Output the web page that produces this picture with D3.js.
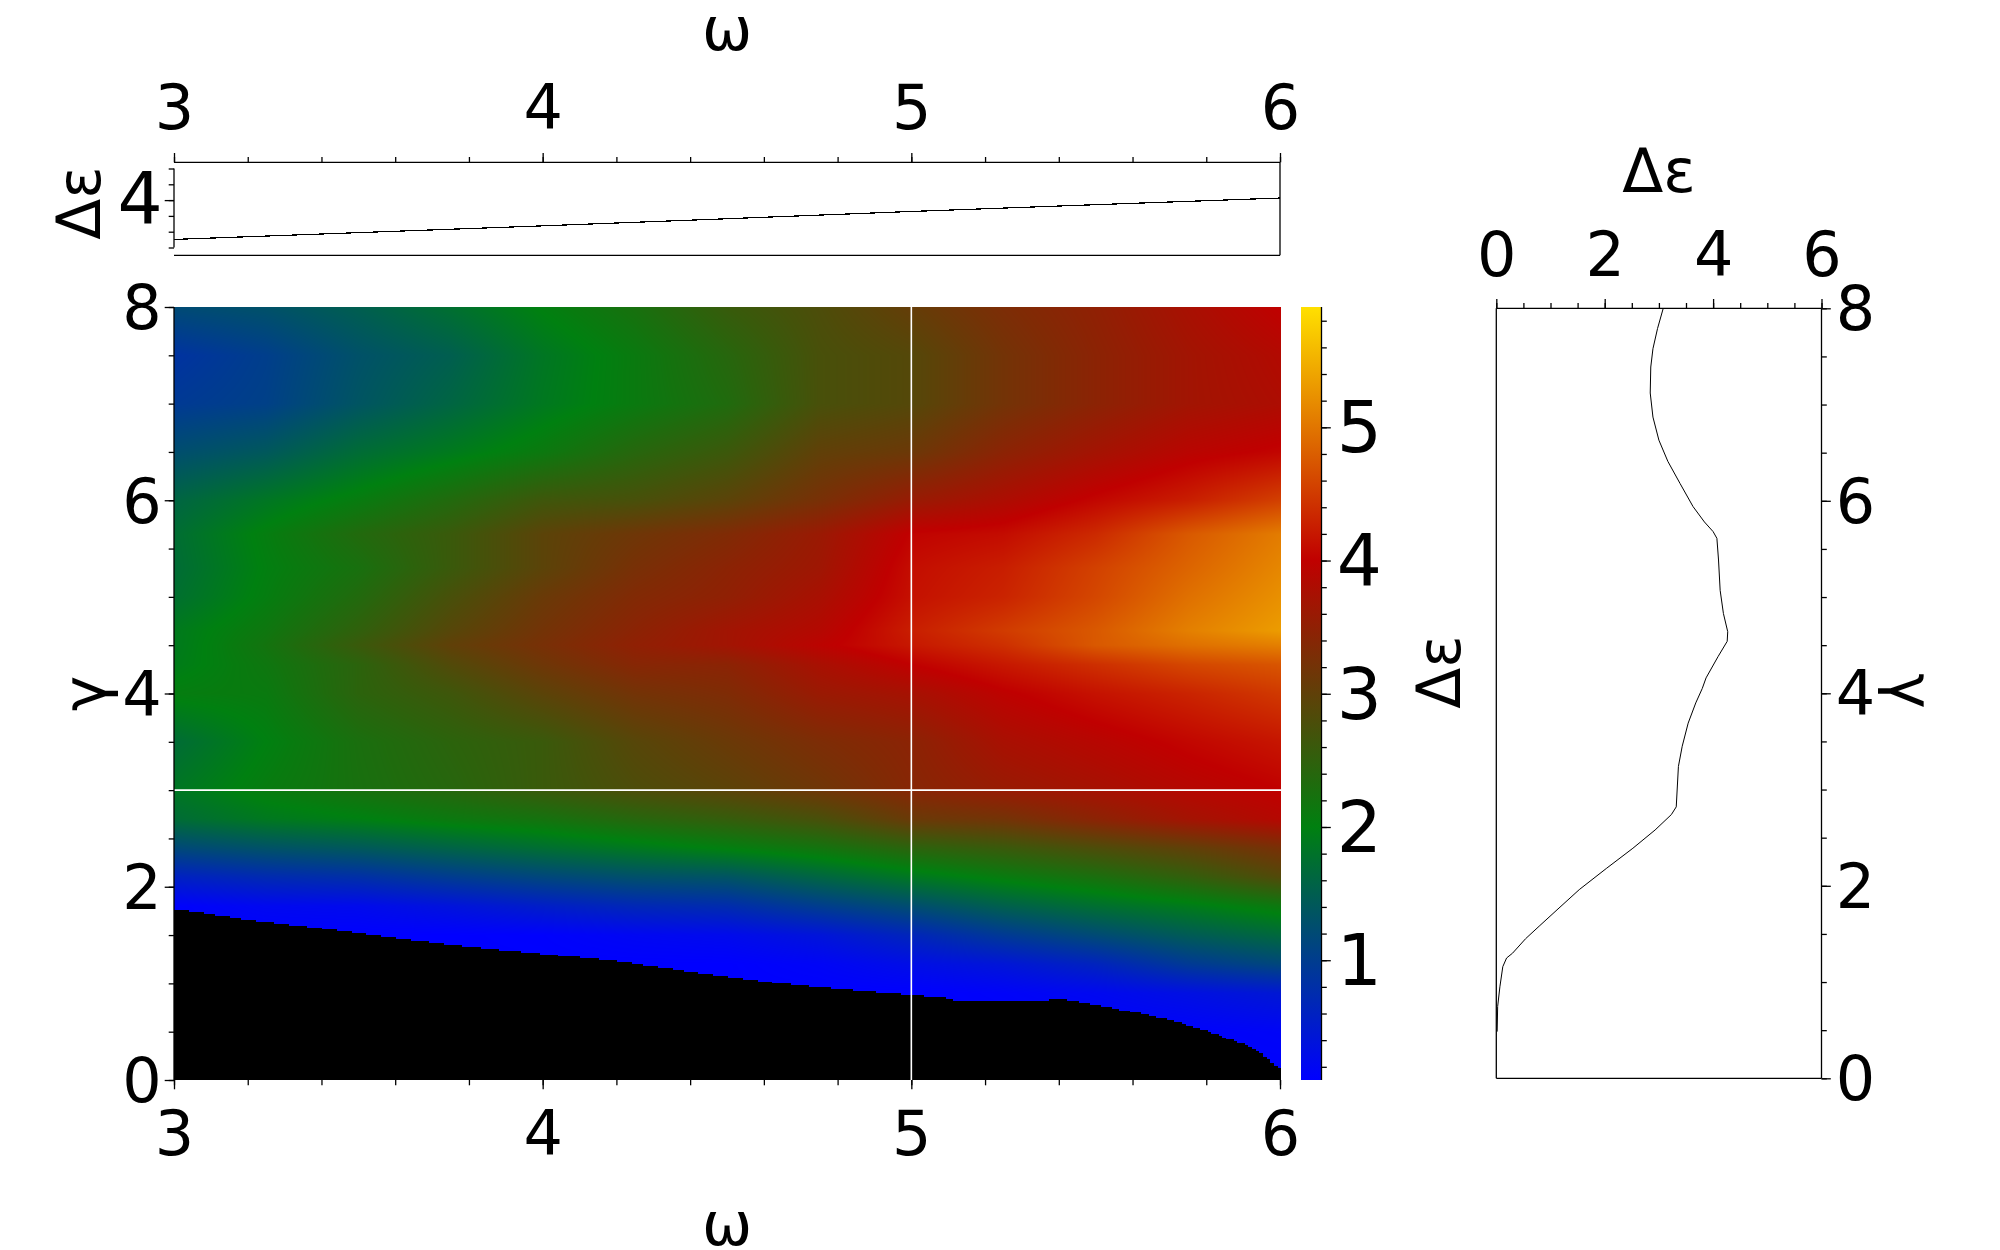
<!DOCTYPE html>
<html>
<head>
<meta charset="utf-8">
<script src="https://cdn.jsdelivr.net/npm/d3@7"></script>
<style>
  html, body { margin: 0; background: #fff; }
  #wrap { position: relative; width: 2000px; height: 1250px; }
  #wrap canvas, #wrap svg { position: absolute; }
  text { font-family: "DejaVu Sans", sans-serif; fill: #000; }
  .tick text { font-family: "DejaVu Sans", sans-serif; }
  path.domain { display: none; }
  .tick line { stroke: #000; stroke-width: 1.3; }
</style>
</head>
<body>
<div id="wrap"></div>
<script>
// grid of the heat map
var omegaGrid = [3, 3.25, 3.5, 3.75, 4, 4.25, 4.5, 4.75, 5, 5.25, 5.5, 5.75, 6];
var gammaGrid = [0, 0.5, 0.9, 1.2, 1.5, 1.8, 2.1, 2.4, 2.7, 3, 3.5, 4, 4.3, 4.5, 4.65, 5, 5.3, 5.65, 6, 6.5, 7, 7.5, 8];
var deltaGrid = [
  [0.1, 0.1, 0.1, 0.1, 0.1, 0.1, 0.1, 0.1, 0.1, 0.1, 0.1, 0.1, 0.1],
  [0.1, 0.1, 0.1, 0.1, 0.1, 0.1, 0.1, 0.1, 0.1, 0.1, 0.1, 0.12, 0.17],
  [0.1, 0.1, 0.1, 0.1, 0.1, 0.1, 0.1, 0.1, 0.1, 0.15, 0.22, 0.33, 0.45],
  [0.1, 0.1, 0.1, 0.1, 0.1, 0.1, 0.1, 0.17, 0.3, 0.42, 0.62, 0.95, 1.15],
  [0.1, 0.1, 0.1, 0.1, 0.12, 0.2, 0.25, 0.4, 0.65, 0.95, 1.2, 1.45, 1.65],
  [0.12, 0.22, 0.25, 0.38, 0.54, 0.68, 0.75, 1.0, 1.24, 1.52, 1.74, 1.92, 2.13],
  [0.58, 0.72, 0.8, 0.98, 1.14, 1.28, 1.34, 1.6, 1.86, 2.08, 2.27, 2.52, 2.85],
  [1.17, 1.31, 1.41, 1.57, 1.73, 1.88, 2.03, 2.2, 2.45, 2.6, 2.8, 3.0, 3.25],
  [1.7, 1.88, 1.98, 2.12, 2.22, 2.4, 2.55, 2.75, 3.1, 3.2, 3.45, 3.7, 3.88],
  [1.85, 2.08, 2.25, 2.4, 2.6, 2.8, 2.95, 3.15, 3.4, 3.58, 3.72, 3.88, 4.0],
  [1.7, 2.0, 2.27, 2.45, 2.6, 2.9, 3.1, 3.3, 3.45, 3.75, 3.9, 4.05, 4.18],
  [2.05, 2.1, 2.45, 2.65, 2.95, 3.2, 3.32, 3.6, 3.73, 3.97, 4.15, 4.3, 4.48],
  [1.93, 2.15, 2.45, 2.85, 3.15, 3.4, 3.45, 3.75, 4.0, 4.2, 4.4, 4.6, 4.72],
  [1.9, 2.2, 2.6, 3.0, 3.25, 3.5, 3.68, 3.95, 4.2, 4.4, 4.75, 4.95, 5.08],
  [1.9, 2.15, 2.5, 2.9, 3.2, 3.45, 3.68, 3.87, 4.25, 4.5, 4.75, 5.08, 5.32],
  [1.75, 2.05, 2.35, 2.75, 3.1, 3.35, 3.5, 3.75, 4.14, 4.3, 4.6, 4.95, 5.22],
  [1.7, 2.02, 2.25, 2.6, 2.95, 3.25, 3.45, 3.65, 4.11, 4.25, 4.55, 4.85, 5.14],
  [1.72, 2.05, 2.35, 2.6, 2.95, 3.15, 3.33, 3.6, 4.02, 4.1, 4.35, 4.75, 5.05],
  [1.6, 1.85, 2.08, 2.35, 2.65, 2.75, 2.95, 3.25, 3.58, 3.8, 4.05, 4.25, 4.54],
  [1.25, 1.4, 1.7, 1.9, 2.12, 2.4, 2.62, 3.0, 3.12, 3.45, 3.7, 3.92, 4.04],
  [0.95, 1.05, 1.35, 1.6, 1.88, 2.1, 2.33, 2.75, 2.88, 3.2, 3.45, 3.68, 3.8],
  [0.85, 1.02, 1.3, 1.5, 1.85, 2.1, 2.4, 2.75, 2.88, 3.2, 3.45, 3.68, 3.85],
  [1.2, 1.3, 1.5, 1.75, 2.02, 2.25, 2.58, 2.8, 3.05, 3.3, 3.5, 3.75, 4.0]
];

// upper edge of the black (no data) area
var edgeOmega = [3, 3.2, 3.4, 3.6, 3.8, 4, 4.2, 4.4, 4.6, 4.8, 5, 5.1, 5.12, 5.3, 5.35, 5.42, 5.5, 5.6, 5.7, 5.8, 5.9, 5.95, 6];
var edgeGamma = [1.78, 1.668, 1.58, 1.477, 1.388, 1.315, 1.24, 1.13, 1.028, 0.95, 0.889, 0.855, 0.82, 0.82, 0.837, 0.844, 0.785, 0.716, 0.63, 0.52, 0.38, 0.28, 0.12];

// cut along gamma = 3 (top panel)
var cutOmega = [3, 3.5, 4, 4.5, 5, 5.5, 6];
var cutOmegaDelta = [1.51, 1.94, 2.37, 2.82, 3.28, 3.71, 4.13];

// cut along omega = 5 (right panel)
var cutGamma = [0.485, 0.745, 0.95, 1.16, 1.25, 1.3, 1.45, 1.58, 1.75, 1.96, 2.18, 2.39, 2.58, 2.74, 2.82, 3.24, 3.45, 3.69, 3.9, 4.05, 4.16, 4.38, 4.54, 4.64, 4.83, 5.07, 5.385, 5.61, 5.68, 5.78, 5.94, 6.18, 6.41, 6.63, 6.87, 7.12, 7.39, 7.58, 7.79, 8];
var cutGammaDelta = [0.016, 0.025, 0.066, 0.12, 0.19, 0.3, 0.54, 0.79, 1.12, 1.53, 2.03, 2.52, 2.93, 3.23, 3.32, 3.36, 3.43, 3.54, 3.68, 3.8, 3.87, 4.09, 4.26, 4.27, 4.19, 4.13, 4.1, 4.07, 4.0, 3.84, 3.63, 3.39, 3.165, 3.0, 2.89, 2.84, 2.85, 2.89, 2.975, 3.08];

// colour scale
var colorStops = [0.1, 2, 4, 5.9];
var colorRange = ["#0000ff", "#008010", "#c00000", "#ffe000"];

// axis ticks
var omegaTicks = [3, 4, 5, 6];
var omegaMinor = d3.range(3, 6.01, 0.2);
var gammaTicks = [0, 2, 4, 6, 8];
var gammaMinor = d3.range(0, 8.01, 0.5);
var colorTicks = [1, 2, 3, 4, 5];
var colorMinor = d3.range(0.2, 5.81, 0.2);
var deltaTicks = [0, 2, 4, 6];
var deltaMinor = d3.range(0, 6.01, 0.5);
var topDeltaTicks = [4];
var topDeltaMinor = [1, 2, 3, 4, 5, 6];

var size = {width: 2000, height: 1250};

var x = d3.scaleLinear().domain([3, 6]).range([174, 1280]);
var y = d3.scaleLinear().domain([0, 8]).range([1080, 307]);
var yTop = d3.scaleLinear().domain([1, 6]).range([247.5, 168.5]);
var yColor = d3.scaleLinear().domain([0.101, 5.903]).range([1080, 307]);
var xRight = d3.scaleLinear().domain([0, 6]).range([1496.3, 1821.5]);
var yRight = d3.scaleLinear().domain([0, 8]).range([1078.3, 308.3]);

var color = d3.scaleLinear().domain(colorStops).range(colorRange);
var edge = d3.scaleLinear().domain(edgeOmega).range(edgeGamma);

var wrap = d3.select("#wrap");

// value at (omega, gamma), straight lines between the grid values
function valueAt(w, g) {
  var i = Math.min(d3.bisectRight(omegaGrid, w) - 1, omegaGrid.length - 2);
  var j = Math.min(d3.bisectRight(gammaGrid, g) - 1, gammaGrid.length - 2);
  var tx = (w - omegaGrid[i]) / (omegaGrid[i + 1] - omegaGrid[i]);
  var ty = (g - gammaGrid[j]) / (gammaGrid[j + 1] - gammaGrid[j]);
  var a = deltaGrid[j][i] * (1 - tx) + deltaGrid[j][i + 1] * tx;
  var b = deltaGrid[j + 1][i] * (1 - tx) + deltaGrid[j + 1][i + 1] * tx;
  return a * (1 - ty) + b * ty;
}

// heat map
var heatW = 1107, heatH = 773;
var canvas = wrap.append("canvas")
  .attr("width", heatW)
  .attr("height", heatH)
  .style("left", "174px")
  .style("top", "307px");
var ctx = canvas.node().getContext("2d");
var img = ctx.createImageData(heatW, heatH);
var cellW = 3.69, cellH = 1.93;  // the black edge of the original goes in steps
for (var py = 0; py < heatH; py++) {
  var g = y.invert(py + 307.5);
  for (var px = 0; px < heatW; px++) {
    var w = Math.min(x.invert(px + 174.5), 6);
    var wCell = x.invert(174 + Math.floor(px / cellW) * cellW + cellW / 2);
    var gCell = y.invert(1080 - Math.ceil((1079.5 - (py + 307)) / cellH) * cellH);
    var k = (py * heatW + px) * 4;
    img.data[k + 3] = 255;
    if (gCell < edge(Math.min(wCell, 6))) {
      continue;
    }
    var c = d3.rgb(color(valueAt(w, g)));
    img.data[k] = c.r;
    img.data[k + 1] = c.g;
    img.data[k + 2] = c.b;
  }
}
ctx.putImageData(img, 0, 0);

var svg = wrap.append("svg")
  .attr("width", size.width)
  .attr("height", size.height);

// white cross at the two cuts
svg.append("line")
  .attr("x1", x(5)).attr("x2", x(5))
  .attr("y1", y(8)).attr("y2", y(0))
  .attr("stroke", "#fff").attr("stroke-width", 1.6);
svg.append("line")
  .attr("x1", x(3)).attr("x2", 1281)
  .attr("y1", y(3)).attr("y2", y(3))
  .attr("stroke", "#fff").attr("stroke-width", 1.6);

// colour bar
var grad = svg.append("defs").append("linearGradient")
  .attr("id", "bar")
  .attr("x1", 0).attr("x2", 0)
  .attr("y1", 1).attr("y2", 0);
colorStops.forEach(function(d, i) {
  grad.append("stop")
    .attr("offset", (d - colorStops[0]) / (colorStops[3] - colorStops[0]))
    .attr("stop-color", colorRange[i]);
});
svg.append("rect")
  .attr("x", 1301).attr("y", 307)
  .attr("width", 20.5).attr("height", 773)
  .attr("fill", "url(#bar)");

// major ticks with labels, minor ticks without
function axis(maker, scale, major, minor, pos, fontSize, pad, shiftY) {
  var g = svg.append("g").attr("transform", pos);
  g.call(maker(scale).tickValues(minor).tickSize(5.3).tickFormat(""));
  g.selectAll("text").remove();
  var m = svg.append("g").attr("transform", pos);
  m.call(maker(scale).tickValues(major).tickSize(9.3).tickPadding(pad).tickFormat(d3.format("d")));
  m.attr("font-size", null).attr("font-family", null);
  m.selectAll("text")
    .style("font-size", fontSize + "px")
    .attr("transform", "translate(0," + (shiftY || 0) + ")");
}

function spine(x1, y1, x2, y2) {
  svg.append("line")
    .attr("x1", x1).attr("y1", y1)
    .attr("x2", x2).attr("y2", y2)
    .attr("stroke", "#000").attr("stroke-width", 1.3);
}

// heat map axes
axis(d3.axisBottom, x, omegaTicks, omegaMinor, "translate(0,1080)", 62, 22);
axis(d3.axisLeft, y, gammaTicks, gammaMinor, "translate(174,0)", 62, 3, 2);
spine(174, 307, 174, 1080);

// colour bar axis
axis(d3.axisRight, yColor, colorTicks, colorMinor, "translate(1321.5,0)", 71, 6, 1.5);
spine(1321.5, 307, 1321.5, 1080);

// top panel
axis(d3.axisTop, x, omegaTicks, omegaMinor, "translate(0,162.3)", 62, 24);
axis(d3.axisLeft, yTop, topDeltaTicks, topDeltaMinor, "translate(174,0)", 71, 2);
spine(174, 162.3, 1280, 162.3);
spine(174, 255.3, 1280, 255.3);
spine(1280, 162.3, 1280, 255.3);
spine(174, yTop(6), 174, yTop(1));

svg.append("path")
  .datum(cutOmega)
  .attr("fill", "none")
  .attr("stroke", "#000")
  .attr("stroke-width", 1.2)
  .attr("shape-rendering", "crispEdges")
  .attr("d", d3.line()
    .x(function(d) { return x(d); })
    .y(function(d, i) { return yTop(cutOmegaDelta[i]); }));

// right panel
axis(d3.axisTop, xRight, deltaTicks, deltaMinor, "translate(0,308.3)", 62, 23);
axis(d3.axisRight, yRight, gammaTicks, gammaMinor, "translate(1821.5,0)", 62, 5, 1.5);
spine(1496.3, 308.3, 1821.5, 308.3);
spine(1496.3, 1078.3, 1821.5, 1078.3);
spine(1496.3, 308.3, 1496.3, 1078.3);
spine(1821.5, 308.3, 1821.5, 1078.3);

svg.append("path")
  .datum(cutGamma)
  .attr("fill", "none")
  .attr("stroke", "#000")
  .attr("stroke-width", 1)
  .attr("d", d3.line()
    .x(function(d, i) { return xRight(cutGammaDelta[i]); })
    .y(function(d) { return yRight(d); }));

// axis titles
function title(txt, px, py, rot, fontSize) {
  svg.append("text")
    .attr("transform", "translate(" + px + "," + py + ") rotate(" + rot + ")")
    .attr("text-anchor", "middle")
    .style("font-size", fontSize + "px")
    .text(txt);
}
title("ω", 727, 50, 0, 60);
title("ω", 727, 1245, 0, 60);
title("Δε", 100, 203, -90, 60);
title("γ", 105, 693.5, -90, 60);
title("Δε", 1460, 672, -90, 60);
title("Δε", 1659, 192, 0, 60);
title("γ", 1891, 691, 90, 60);
</script>
</body>
</html>
